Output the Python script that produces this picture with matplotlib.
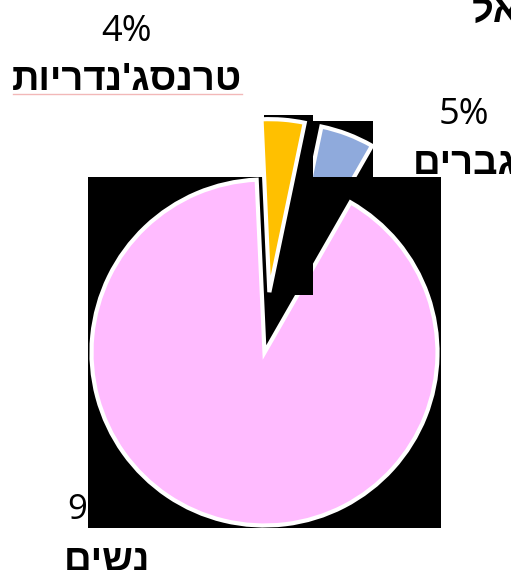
import matplotlib
matplotlib.use("Agg")
import matplotlib.pyplot as plt
from matplotlib.patches import Rectangle

# slices in drawing order (clockwise from the top)
labels = ["טרנסג'נדריות", "גברים", "נשים"]
values = [4, 5, 91]
pct_labels = ["4%", "5%", "91%"]
colors = ["#FFC000", "#8FAADC", "#FFBBFF"]
explode = [0.35, 0.35, 0.0]
title_part = "אל"

W, H = 511, 570
fig = plt.figure(figsize=(W / 100, H / 100), dpi=100)
fig.patch.set_facecolor("white")

cx, cy, r = 264.5, 352.5, 173
ax = fig.add_axes([(cx - r) / W, 1 - (cy + r) / H, 2 * r / W, 2 * r / H])
ax.axis("off")

wedges, _ = ax.pie(values, explode=explode, colors=colors, startangle=92.6,
                   counterclock=False, radius=1, frame=False,
                   wedgeprops=dict(edgecolor="white", linewidth=3))
ax.set_xlim(-1, 1)
ax.set_ylim(-1, 1)
ax.set_aspect("auto")


def box(x0, y0, x1, y1, z):
    # black box given in pixel coords (top-left origin)
    ax.add_patch(Rectangle((x0 / W, 1 - y1 / H), (x1 - x0) / W, (y1 - y0) / H,
                           transform=fig.transFigure, facecolor="black",
                           edgecolor="none", clip_on=False, zorder=z))


def txt(x, y, s, size, bold=False, ha="center", va="center", z=10, fam=None):
    ax.text(x / W, 1 - y / H, s, transform=fig.transFigure, fontsize=size,
            fontweight="bold" if bold else "normal", ha=ha, va=va,
            family=fam or ["Liberation Sans", "DejaVu Sans"], clip_on=False,
            zorder=z, color="black")


def heb(s):
    # the source shows the Hebrew glyphs in stored order, left to right;
    # the renderer here lays Hebrew out right to left, so flip it back
    return s[::-1]


num_font = ["Open Sans", "DejaVu Sans"]

# layering mimics the rendering glitch of the source image
box(313, 121, 373, 177, 1)
wedges[1].set_zorder(2)
txt(67, 510, pct_labels[2], 25, ha="left", z=2.5, fam=num_font)
box(88, 177, 441, 528, 3)
wedges[2].set_zorder(4)
box(264, 115, 313, 295, 5)
wedges[0].set_zorder(6)

txt(127, 32, pct_labels[0], 26, fam=num_font)
txt(127, 80, heb(labels[0]), 27.5, bold=True)
ax.plot([13 / W, 242 / W], [1 - 94 / H, 1 - 94 / H], transform=fig.transFigure,
        color="#F2B8B8", lw=1, clip_on=False, zorder=10)
txt(464, 115, pct_labels[1], 26, fam=num_font)
txt(413, 164, heb(labels[1]), 27.5, bold=True, ha="left")
txt(64, 561, heb(labels[2]), 27.5, bold=True, ha="left")
txt(472, 12, heb(title_part), 27.5, bold=True, ha="left")

fig.savefig("out.png", dpi=100)
